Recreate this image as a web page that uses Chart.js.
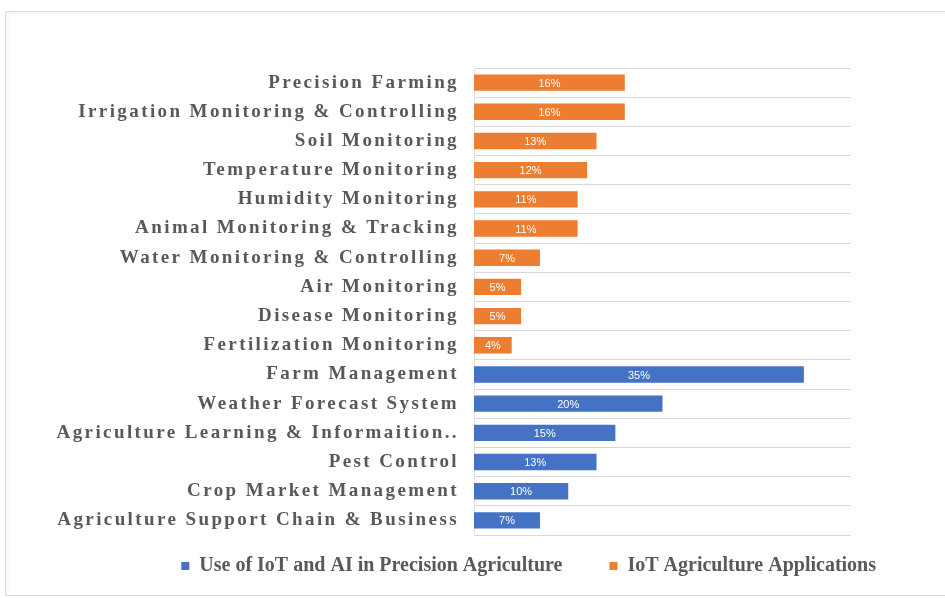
<!DOCTYPE html>
<html>
<head>
<meta charset="utf-8">
<script src="https://cdn.jsdelivr.net/npm/chart.js@4"></script>
<style>
	html, body { margin: 0; padding: 0; background: #fff; }
	#frame {
		position: absolute; left: 5px; top: 11px; width: 960px; height: 585px;
		border: 1px solid #dcdcdc; box-sizing: border-box;
		box-shadow: inset 2px 2px 3px rgba(0,0,0,0.04);
	}
	#chart { position: absolute; left: 0; top: 0; }
</style>
</head>
<body>
<div id="frame"></div>
<canvas id="chart" width="945" height="598"></canvas>
<script>
// IoT applications (orange, top rows)
const appCategories = [
	"Precision Farming",
	"Irrigation Monitoring & Controlling",
	"Soil Monitoring",
	"Temperature Monitoring",
	"Humidity Monitoring",
	"Animal Monitoring & Tracking",
	"Water Monitoring & Controlling",
	"Air Monitoring",
	"Disease Monitoring",
	"Fertilization Monitoring"
];
const appValues = [16, 16, 13, 12, 11, 11, 7, 5, 5, 4];

// IoT and AI in precision agriculture (blue, bottom rows)
const aiCategories = [
	"Farm Management",
	"Weather Forecast System",
	"Agriculture Learning & Informaition..",
	"Pest Control",
	"Crop Market Management",
	"Agriculture Support Chain & Business"
];
const aiValues = [35, 20, 15, 13, 10, 7];

const xTicks = [0, 40];

const blue = "#4472C4";
const orange = "#ED7D31";

const labels = appCategories.concat(aiCategories);
const aiData = appCategories.map(() => null).concat(aiValues);
const appData = appValues.concat(aiCategories.map(() => null));

// white % labels inside the bars, then letter spacing for the axis labels
const barLabels = {
	id: 'barLabels',
	beforeDraw(chart) {
		chart.ctx.letterSpacing = '0px';
	},
	afterLayout(chart) {
		// pull the legend up under the plot
		chart.legend.top -= 26;
		chart.legend.bottom -= 26;
	},
	afterDatasetsDraw(chart) {
		const ctx = chart.ctx;
		ctx.save();
		ctx.font = '11px "Liberation Sans", sans-serif';
		ctx.fillStyle = '#ffffff';
		ctx.textAlign = 'center';
		ctx.textBaseline = 'middle';
		chart.data.datasets.forEach((ds, i) => {
			chart.getDatasetMeta(i).data.forEach((bar, j) => {
				if (ds.data[j] == null) return;
				const p = bar.getProps(['x', 'y', 'base'], true);
				ctx.fillText(ds.data[j] + '%', (p.x + p.base) / 2, p.y + 1);
			});
		});
		ctx.restore();
		ctx.letterSpacing = '2.4px';
	},
	afterDraw(chart) {
		chart.ctx.letterSpacing = '0px';
	}
};

new Chart(document.getElementById("chart").getContext("2d"), {
	type: "bar",
	data: {
		labels: labels,
		datasets: [
			{
				label: "Use of IoT and AI in Precision Agriculture",
				backgroundColor: blue,
				data: aiData,
				categoryPercentage: 1,
				barPercentage: 0.56
			},
			{
				label: "IoT Agriculture Applications",
				backgroundColor: orange,
				data: appData,
				categoryPercentage: 1,
				barPercentage: 0.56
			}
		]
	},
	options: {
		responsive: false,
		animation: false,
		indexAxis: 'y',
		layout: {
			padding: { left: 30, right: 22, top: 68, bottom: -14 }
		},
		scales: {
			x: {
				stacked: true,
				display: false,
				min: xTicks[0],
				max: xTicks[1]
			},
			y: {
				stacked: true,
				afterFit(scale) {
					scale.width = 474 - 30;
				},
				grid: {
					color: '#d9d9d9',
					drawTicks: false,
					offset: true
				},
				border: { color: '#e4e4e4' },
				ticks: {
					z: 1,
					autoSkip: false,
					padding: 15,
					color: '#595959',
					font: { family: '"Liberation Serif", serif', size: 19, weight: 'bold' }
				}
			},
			// empty spacer on the right so the plot stops short of the edge
			spacer: {
				type: 'linear',
				axis: 'y',
				position: 'right',
				afterFit(scale) {
					scale.width = 945 - 22 - 851;
				},
				grid: { display: false },
				border: { display: false },
				ticks: { display: false }
			}
		},
		plugins: {
			legend: {
				display: true,
				position: 'bottom',
				align: 'end',
				labels: {
					boxWidth: 8,
					boxHeight: 8,
					padding: 47,
					color: '#595959',
					font: { family: '"Liberation Serif", serif', size: 20, weight: 'bold' }
				}
			},
			tooltip: { enabled: false }
		}
	},
	plugins: [barLabels]
});
</script>
</body>
</html>
